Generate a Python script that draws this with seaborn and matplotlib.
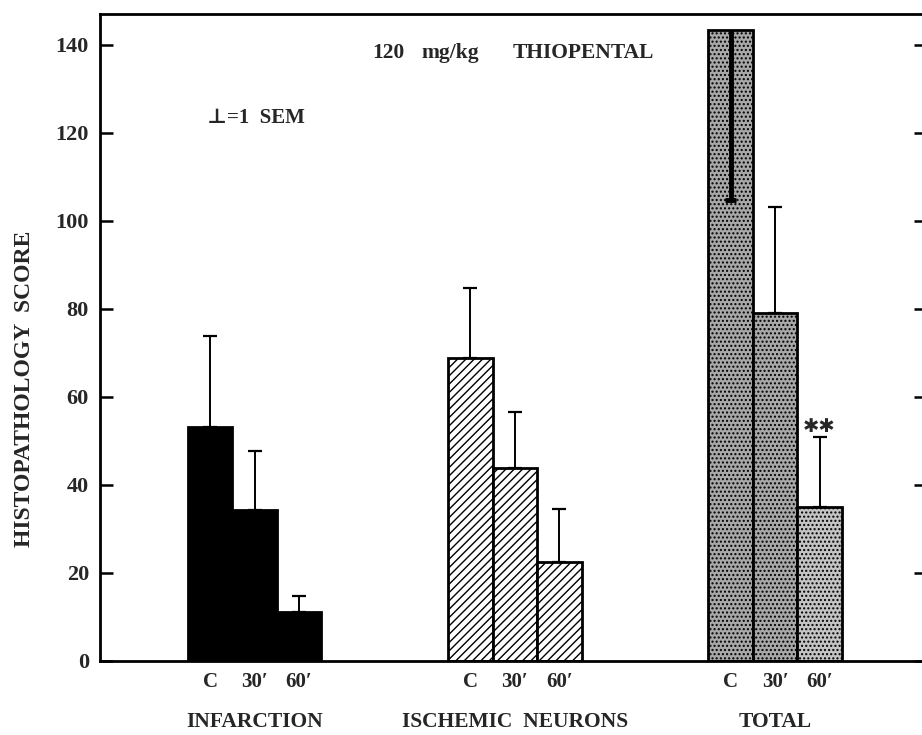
import matplotlib
matplotlib.use('Agg')

import numpy as np
import pandas as pd
import seaborn as sns
import matplotlib.pyplot as plt

sns.set_style("white")
plt.rcParams['font.family'] = ['Liberation Serif', 'DejaVu Serif']
plt.rcParams['font.weight'] = 'bold'
plt.rcParams['hatch.linewidth'] = 1.0

regions = ["INFARCTION", "ISCHEMIC  NEURONS", "TOTAL"]
times = ["C", "30\u2032", "60\u2032"]

infarction = [53.2, 34.2, 11.2]
infarction_sem = [20.7, 13.5, 3.6]
ischemic = [68.8, 43.8, 22.5]
ischemic_sem = [16.0, 12.8, 12.0]
total = [143.4, 79.0, 35.1]
total_sem = [38.6, 24.2, 15.7]
# the control bar of TOTAL has its SEM drawn downwards
total_sem_down = [True, False, False]

df = pd.DataFrame({
    "region": np.repeat(regions, 3),
    "time": times * 3,
    "score": infarction + ischemic + total,
    "sem": infarction_sem + ischemic_sem + total_sem,
})

fig = plt.figure(figsize=(9.22, 7.35), dpi=100)
ax = fig.add_axes([100 / 922, 74 / 735, 826 / 922, 647 / 735])

sns.barplot(data=df, x="region", y="score", hue="time", order=regions,
            hue_order=times, width=0.513, gap=0, errorbar=None,
            legend=False, ax=ax, palette=["black"] * 3)

bars = sorted(ax.patches, key=lambda p: p.get_x())
styles = [
    dict(facecolor="black", hatch=None),
    dict(facecolor="white", hatch="////"),
    dict(facecolor="#a8a8a8", hatch="...."),
]
for i, p in enumerate(bars):
    st = styles[i // 3]
    p.set_facecolor(st["facecolor"])
    p.set_hatch(st["hatch"])
    p.set_edgecolor("black")
    p.set_linewidth(2.0)
    if i == 8:
        p.set_facecolor("#c4c4c4")

centers = [p.get_x() + p.get_width() / 2 for p in bars]
heights = [p.get_height() for p in bars]

for i, (xc, h, e) in enumerate(zip(centers, heights, df["sem"])):
    down = i >= 6 and total_sem_down[i - 6]
    if down:
        # thick line hanging inside the bar, inverted-T cap at the bottom
        ax.vlines(xc, h - e, h, color="black", lw=3.5, zorder=5)
        ax.hlines(h - e, xc - 0.022, xc + 0.022, color="black", lw=3.5,
                  zorder=5)
    else:
        ax.errorbar(xc, h, yerr=[[0], [e]], fmt="none", ecolor="black",
                    elinewidth=1.4, capsize=5, capthick=1.6, zorder=5)

# significance marker
ax.text(centers[8], 53.2, "\u2731\u2731", ha="center", va="center",
        fontsize=14, family=['DejaVu Sans'])

ax.set_xlim(-0.594, 2.58)
ax.set_ylim(0, 147)
ax.set_yticks(np.arange(0, 141, 20))
ax.tick_params(axis="y", which="both", direction="in", length=9, width=1.8,
               left=True, right=True, labelsize=16, pad=8, color="black")
ax.set_xticks(centers, times * 3)
ax.tick_params(axis="x", length=0, labelsize=15, pad=8)
for lab in ax.get_yticklabels() + ax.get_xticklabels():
    lab.set_fontweight("bold")

for xg, name in zip(range(3), regions):
    ax.text(xg, -(722 - 661) / 647, name, transform=ax.get_xaxis_transform(),
            ha="center", va="center", fontsize=15.5, fontweight="bold")

ax.set_xlabel("")
ax.set_ylabel("")
fig.text(25 / 922, 1 - 389 / 735, "HISTOPATHOLOGY  SCORE", rotation=90,
         ha="center", va="center", fontsize=17, fontweight="bold")

# header, words spaced as in the original
for xp, word in [(372, "120"), (421, "mg/kg"), (513, "THIOPENTAL")]:
    fig.text(xp / 922, 1 - 53 / 735, word,
             ha="left", va="center", fontsize=15.5, fontweight="bold")
fig.text(207 / 922, 1 - 118 / 735, "\u22a5=1  SEM",
         ha="left", va="center", fontsize=15, fontweight="bold")

for s in ax.spines.values():
    s.set_linewidth(2.0)
    s.set_color("black")

fig.savefig("out.png", dpi=100)
